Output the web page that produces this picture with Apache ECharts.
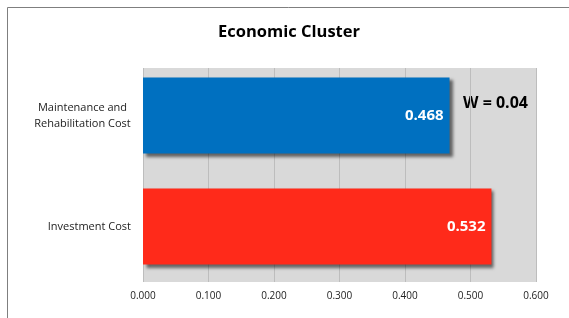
<!DOCTYPE html>
<html><head><meta charset="utf-8">
<script src="https://cdn.jsdelivr.net/npm/echarts@6/dist/echarts.min.js"></script>
<style>html,body{margin:0;padding:0;background:#fff}#c{width:569px;height:318px}</style>
</head><body><div id="c"></div>
<script>
const categories = ['Investment Cost', 'Maintenance and\nRehabilitation Cost'];
const values = [0.532, 0.468];
const colors = ['#FF2A1A', '#0070C0'];
const xTicks = [0, 0.1, 0.2, 0.3, 0.4, 0.5, 0.6];
const title = 'Economic Cluster';
const note = 'W = 0.04';

const chart = echarts.init(document.getElementById('c'));
const font = '"Open Sans", "Liberation Sans", sans-serif';
chart.setOption({
  animation: false,
  title: {text: title, left: 213, top: 19, textStyle: {fontFamily: font, fontSize: 16.5, fontWeight: 'bold', color: '#000'}},
  grid: [
    {left: 143, right: 33, top: 68, bottom: 36, show: true, backgroundColor: '#D9D9D9', borderWidth: 0},
    {left: 143, right: 33, top: 60, bottom: 36, show: false}
  ],
  xAxis: [
    {type: 'value', gridIndex: 0, min: xTicks[0], max: xTicks[xTicks.length - 1], interval: 0.1,
      axisLine: {show: false}, axisTick: {show: false},
      splitLine: {lineStyle: {color: '#BDBDBD', width: 1}},
      axisLabel: {formatter: v => v.toFixed(3), fontFamily: font, fontSize: 10, color: '#222', margin: 9}},
    {type: 'value', gridIndex: 1, min: xTicks[0], max: xTicks[xTicks.length - 1], interval: 0.1, show: false}
  ],
  yAxis: [
    {type: 'category', gridIndex: 0, data: categories, show: false},
    {type: 'category', gridIndex: 1, data: categories,
      axisLine: {show: false}, axisTick: {show: false},
      axisLabel: {fontFamily: font, fontSize: 11, color: '#222', margin: 12, lineHeight: 16,
        formatter: v => v.indexOf('\n') >= 0 ? v.split('\n').map(s => '{c|' + s + '}').join('\n') : v,
        rich: {c: {width: 97, align: 'center', fontFamily: font, fontSize: 11, color: '#222', lineHeight: 16}}}}
  ],
  series: [{type: 'bar', xAxisIndex: 1, yAxisIndex: 1, barCategoryGap: '31.5%',
    data: values.map((v, i) => ({value: v, itemStyle: {color: colors[i]}})),
    itemStyle: {shadowBlur: 3, shadowColor: 'rgba(0,0,0,0.55)', shadowOffsetX: 3, shadowOffsetY: 3},
    label: {show: true, position: 'insideRight', formatter: p => p.value.toFixed(3), color: '#fff', fontFamily: font, fontSize: 15, fontWeight: 'bold', distance: 6}
  }],
  graphic: [
    {type: 'rect', shape: {x: 7.5, y: 7.5, width: 700, height: 500}, style: {fill: 'none', stroke: '#7F7F7F', lineWidth: 1}, silent: true, z: -1},
    {type: 'text', left: 463, top: 95, style: {text: note, fontFamily: font, fontSize: 16, fontWeight: 'bold', fill: '#000'}}
  ]
});
</script></body></html>
